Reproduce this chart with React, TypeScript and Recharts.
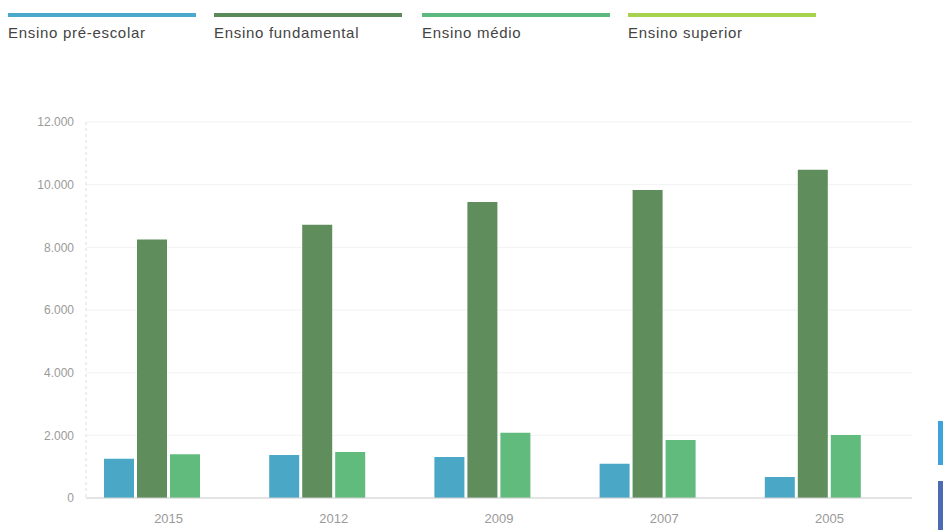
import { Bar, BarChart, CartesianGrid, XAxis, YAxis } from "recharts";

const years = ["2015", "2012", "2009", "2007", "2005"];
const preEscolar = [1250, 1370, 1310, 1090, 670];
const fundamental = [8250, 8720, 9450, 9830, 10480];
const medio = [1400, 1470, 2080, 1850, 2010];
const superior = [0, 0, 0, 0, 0];
const yTicks = [0, 2000, 4000, 6000, 8000, 10000, 12000];

const series = [
  { key: "pre", name: "Ensino pré-escolar", color: "#4aa7c6", legend: "#4aa9cc" },
  { key: "fund", name: "Ensino fundamental", color: "#5f8e5c", legend: "#5a8a58" },
  { key: "medio", name: "Ensino médio", color: "#60bb7c", legend: "#5cba80" },
  { key: "sup", name: "Ensino superior", color: "#a2cf4e", legend: "#a6d24e" },
];

const data = years.map((year, i) => ({
  year,
  pre: preEscolar[i],
  fund: fundamental[i],
  medio: medio[i],
  sup: superior[i],
}));

const fmt = (v: number) => String(v).replace(/\B(?=(\d{3})+(?!\d))/g, ".");

const font = '"Liberation Sans", Arial, sans-serif';

export default function App() {
  return (
    <div style={{ position: "absolute", left: 0, top: 0, width: 943, height: 530, background: "#fff", fontFamily: font, overflow: "hidden" }}>
      {series.map((s, i) => (
        <div key={s.key} style={{ position: "absolute", left: [8, 214, 422, 628][i], top: 13 }}>
          <div style={{ width: 188, height: 4, background: s.legend }} />
          <div style={{ marginTop: 7, fontSize: 15, color: "#444", letterSpacing: 0.7 }}>{s.name}</div>
        </div>
      ))}
      <div style={{ position: "absolute", left: 938, top: 421, width: 6, height: 44, background: "#3ea2dc" }} />
      <div style={{ position: "absolute", left: 938, top: 481, width: 6, height: 49, background: "#4b6cb2" }} />
      <BarChart
        width={943}
        height={530}
        data={data}
        margin={{ top: 122, right: 31, bottom: 2, left: 0 }}
        barSize={30}
        barGap={3}
        style={{ position: "absolute", left: 0, top: 0 }}
      >
        <CartesianGrid vertical={false} stroke="#f2f2f2" />
        <XAxis
          dataKey="year"
          height={30}
          axisLine={{ stroke: "#cfcfcf" }}
          tickLine={false}
          tickSize={0}
          tickMargin={16}
          tick={{ fill: "#9a9a9a", fontSize: 13, fontFamily: font }}
        />
        <YAxis
          width={86}
          domain={[0, 12000]}
          ticks={yTicks}
          tickFormatter={fmt}
          axisLine={{ stroke: "#dddddd", strokeDasharray: "3 3" }}
          tickLine={false}
          tickSize={0}
          tickMargin={12}
          tick={{ fill: "#9a9a9a", fontSize: 12, fontFamily: font }}
        />
        {series.map((s) => (
          <Bar key={s.key} dataKey={s.key} name={s.name} fill={s.color} isAnimationActive={false} />
        ))}
      </BarChart>
    </div>
  );
}
